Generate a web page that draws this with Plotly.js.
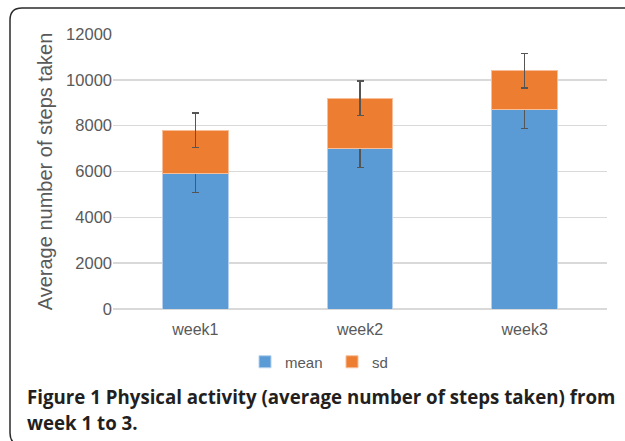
<!DOCTYPE html>
<html>
<head>
<meta charset="utf-8">
<script src="https://cdn.plot.ly/plotly-3.0.1.min.js"></script>
<style>
html,body{margin:0;padding:0;background:#fff;}
#chart{width:625px;height:441px;}
</style>
</head>
<body>
<div id="chart"></div>
<script>
// Data
const categories = ["week1", "week2", "week3"];
const meanValues = [5900, 7000, 8700];
const sdValues = [1900, 2200, 1700];
const meanErrors = [820, 820, 820];
const sdErrors = [750, 760, 750];
const yTickValues = [0, 2000, 4000, 6000, 8000, 10000, 12000];
const yTickLabels = ["0", "2000", "4000", "6000", "8000", "10000", "12000"];
const yAxisTitle = "Average number of steps taken";
const captionLine1 = "<b>Figure 1</b> <b>Physical activity (average number of steps taken) from</b>";
const captionLine2 = "<b>week 1 to 3.</b>";

const W = 625, H = 441;
const M = {l: 113, r: 18, t: 34, b: 132};
const pw = W - M.l - M.r, ph = H - M.t - M.b;
const px = x => (x - M.l) / pw;
const py = y => (H - M.b - y) / ph;

const errStyle = {color: "#555555", thickness: 1.5, width: 3.5};
const axisFont = "Liberation Sans, Arial, sans-serif";

const traces = [
  {
    type: "bar", name: "mean", x: categories, y: meanValues,
    marker: {color: "#5b9bd5", line: {color: "#b4d0ee", width: 1}},
    error_y: Object.assign({type: "data", array: meanErrors, visible: true}, errStyle)
  },
  {
    type: "bar", name: "sd", x: categories, y: sdValues,
    marker: {color: "#ed7d31", line: {color: "#f7bf99", width: 1}},
    error_y: Object.assign({type: "data", array: sdErrors, visible: true}, errStyle)
  }
];

// rounded frame path (pixel -> paper)
const r = 12;
const framePath = [
  "M", px(640), py(8),
  "L", px(10 + r), py(8),
  "Q", px(10), py(8), px(10), py(8 + r),
  "L", px(10), py(441 - r + 4),
  "Q", px(10), py(445), px(10 + r), py(445)
].join(" ");

const layout = {
  width: W, height: H,
  margin: M,
  paper_bgcolor: "#ffffff",
  plot_bgcolor: "#ffffff",
  barmode: "stack",
  bargap: 0.6,
  showlegend: true,
  legend: {
    orientation: "h", x: px(332), xanchor: "center", y: py(362), yanchor: "middle",
    font: {family: axisFont, size: 15, color: "#595959"},
    traceorder: "normal", itemwidth: 30, tracegroupgap: 0,
    entrywidth: 42, entrywidthmode: "pixels"
  },
  xaxis: {
    type: "category",
    tickfont: {family: axisFont, size: 16, color: "#595959"},
    ticklabelstandoff: 9,
    showline: false, ticks: "", showgrid: false, zeroline: false
  },
  yaxis: {
    range: [0, 12000],
    tickvals: yTickValues, ticktext: yTickLabels,
    tickfont: {family: axisFont, size: 16.5, color: "#595959"},
    gridcolor: "#d9d9d9", gridwidth: 1.5,
    zeroline: true, zerolinecolor: "#d9d9d9", zerolinewidth: 1.5,
    showline: false, ticks: "", ticklen: 0,
    title: {text: yAxisTitle, font: {family: axisFont, size: 20, color: "#595959"}, standoff: 8}
  },
  shapes: [
    {type: "path", xref: "paper", yref: "paper", path: framePath,
     line: {color: "#2b2b2b", width: 1.5}, layer: "above"}
  ],
  annotations: [
    {xref: "paper", yref: "paper", x: px(25), y: py(396), xanchor: "left", yanchor: "middle",
     text: captionLine1, showarrow: false, align: "left",
     font: {family: "Open Sans, Noto Sans, sans-serif", size: 18.7, color: "#231f20"}},
    {xref: "paper", yref: "paper", x: px(25), y: py(422), xanchor: "left", yanchor: "middle",
     text: captionLine2, showarrow: false, align: "left",
     font: {family: "Open Sans, Noto Sans, sans-serif", size: 18.7, color: "#231f20"}}
  ]
};

Plotly.newPlot("chart", traces, layout, {displayModeBar: false, staticPlot: true});
</script>
</body>
</html>
